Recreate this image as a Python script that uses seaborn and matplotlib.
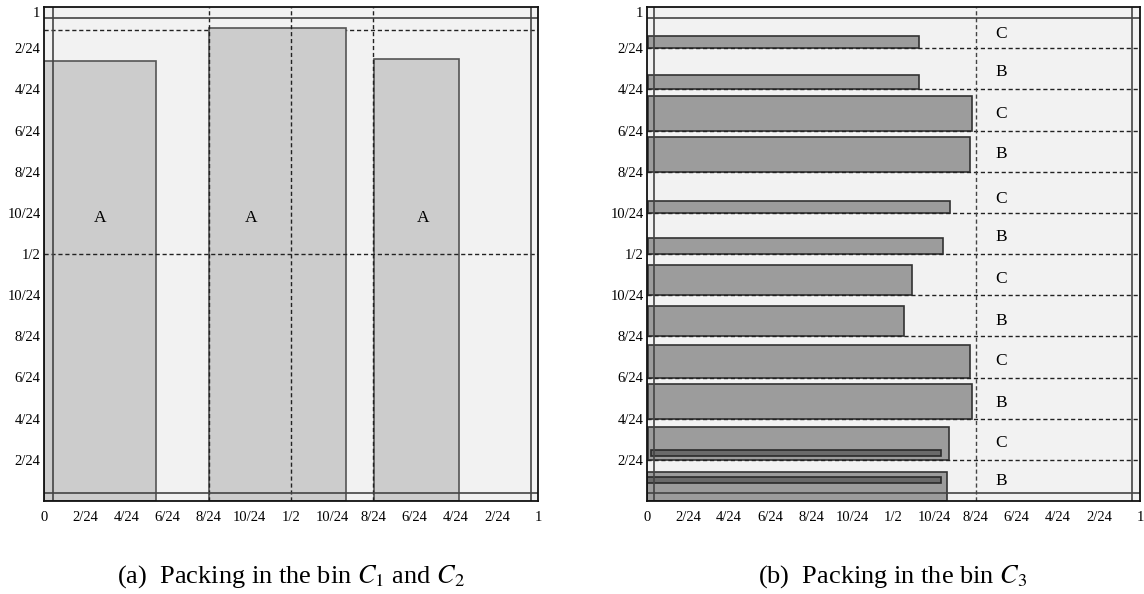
import matplotlib
matplotlib.use("Agg")
import matplotlib.pyplot as plt
import seaborn as sns

sns.set_theme(style="white")
plt.rcParams['font.family'] = ['Liberation Serif', 'DejaVu Serif']
plt.rcParams['mathtext.fontset'] = 'stix'
plt.rcParams['text.color'] = 'black'
plt.rcParams['xtick.color'] = 'black'
plt.rcParams['ytick.color'] = 'black'

# ---------------- data ----------------
tick_pos = [k / 12 for k in range(13)]
x_tick_labels = ['0', '2/24', '4/24', '6/24', '8/24', '10/24', '1/2',
                 '10/24', '8/24', '6/24', '4/24', '2/24', '1']
y_tick_pos = [k / 12 for k in range(1, 13)]
y_tick_labels = ['2/24', '4/24', '6/24', '8/24', '10/24', '1/2',
                 '10/24', '8/24', '6/24', '4/24', '2/24', '1']

# panel (a): items A
a_left = [0.0, 0.334, 0.668]
a_right = [0.227, 0.611, 0.841]
a_height = [0.891, 0.957, 0.895]
a_label_x = [0.114, 0.419, 0.767]
a_label_y = [0.573, 0.573, 0.573]
a_labels = ['A', 'A', 'A']
a_top_dashed = 0.953
a_half_dashed = 0.5
a_vert_dashed = [1 / 3, 1 / 2, 2 / 3]
a_margin = [0.018, 0.985, 0.017, 0.978]   # left, right, bottom, top

# panel (b): items B / C
b_left = [0.003] * 11 + [0.0]
b_right = [0.551, 0.551, 0.659, 0.655, 0.614, 0.601,
           0.538, 0.521, 0.6545, 0.6586, 0.613, 0.609]
b_bottom = [11 / 12, 10 / 12, 9 / 12, 8 / 12, 7 / 12, 6 / 12,
            5 / 12, 4 / 12, 3 / 12, 2 / 12, 1 / 12, 0.0]
b_top = [0.941, 0.862, 0.820, 0.7375, 0.608, 0.532,
         0.478, 0.395, 0.316, 0.2375, 0.149, 0.058]
b_inner_left = [0.0075, 0.0]
b_inner_right = [0.597, 0.597]
b_inner_bottom = [0.0911, 0.0371]
b_inner_top = [0.1032, 0.0492]
b_labels = ['C', 'B', 'C', 'B', 'C', 'B', 'C', 'B', 'C', 'B', 'C', 'B']
b_label_y = [0.946, 0.869, 0.783, 0.702, 0.611, 0.534,
             0.450, 0.364, 0.283, 0.198, 0.117, 0.040]
b_label_x = 0.718
b_row_dashed = [k / 12 for k in range(1, 12)]
b_vert_dashed = [2 / 3]
b_margin = [0.015, 0.984, 0.016, 0.978]

captions = [r'(a)  Packing in the bin $C_1$ and $C_2$',
            r'(b)  Packing in the bin $C_3$']

# ---------------- style ----------------
BG = '#f2f2f2'
A_FACE = '#cccccc'
B_FACE = '#9c9c9c'
INNER_FACE = '#6a6a6a'
EDGE = '#444444'
DASH = (0, (3, 2))

fig = plt.figure(figsize=(11.44, 5.94), dpi=100)
axA = fig.add_axes([44 / 1144, 93 / 594, 494 / 1144, 494 / 594])
axB = fig.add_axes([647 / 1144, 93 / 594, 493 / 1144, 494 / 594])


def base(ax, margin):
    ax.set_facecolor(BG)
    ax.set_xlim(0, 1)
    ax.set_ylim(0, 1)
    ax.set_xticks(tick_pos)
    ax.set_xticklabels(x_tick_labels, fontsize=10.5)
    ax.set_yticks(y_tick_pos)
    ax.set_yticklabels(y_tick_labels, fontsize=10.5)
    ax.get_yticklabels()[-1].set_va('top')
    ax.tick_params(axis='x', length=0, pad=7)
    ax.tick_params(axis='y', length=0, pad=2.5)
    for s in ax.spines.values():
        s.set_color('#111111')
        s.set_linewidth(1.3)
        s.set_zorder(6)
    l, r, b, t = margin
    ax.axvline(l, color=EDGE, lw=1.2, zorder=5)
    ax.axvline(r, color=EDGE, lw=1.2, zorder=5)
    ax.axhline(b, color=EDGE, lw=1.2, zorder=5)
    ax.axhline(t, color=EDGE, lw=1.2, zorder=5)


# panel (a)
base(axA, a_margin)
axA.axhline(a_top_dashed, color='#222222', lw=1.0, ls=DASH, zorder=1)
axA.bar(a_left, a_height, width=[r - l for l, r in zip(a_left, a_right)],
        align='edge', color=A_FACE, edgecolor='#555555', linewidth=1.2, zorder=2)
axA.axhline(a_half_dashed, color='#222222', lw=1.0, ls=DASH, zorder=3)
for xv in a_vert_dashed:
    axA.axvline(xv, color='#222222', lw=1.0, ls=DASH, zorder=3)
for x, y, t in zip(a_label_x, a_label_y, a_labels):
    axA.text(x, y, t, ha='center', va='center', fontsize=12.5, zorder=7)

# panel (b)
base(axB, b_margin)
axB.barh(b_bottom, [r - l for l, r in zip(b_left, b_right)], left=b_left,
         height=[t - b for b, t in zip(b_bottom, b_top)], align='edge',
         color=B_FACE, edgecolor='#333333', linewidth=1.2, zorder=2)
axB.barh(b_inner_bottom, [r - l for l, r in zip(b_inner_left, b_inner_right)],
         left=b_inner_left,
         height=[t - b for b, t in zip(b_inner_bottom, b_inner_top)],
         align='edge', color=INNER_FACE, edgecolor='#2a2a2a', linewidth=1.2,
         zorder=3)
for yv in b_row_dashed:
    axB.axhline(yv, color='#222222', lw=1.0, ls=DASH, zorder=4)
for xv in b_vert_dashed:
    axB.axvline(xv, color='#444444', lw=1.0, ls=DASH, zorder=4)
for y, t in zip(b_label_y, b_labels):
    axB.text(b_label_x, y, t, ha='center', va='center', fontsize=12.5, zorder=7)

# captions
fig.text(291 / 1144, 11 / 594, captions[0], ha='center', va='baseline', fontsize=19)
fig.text(893 / 1144, 11 / 594, captions[1], ha='center', va='baseline', fontsize=19)

fig.savefig('out.png', dpi=100)
